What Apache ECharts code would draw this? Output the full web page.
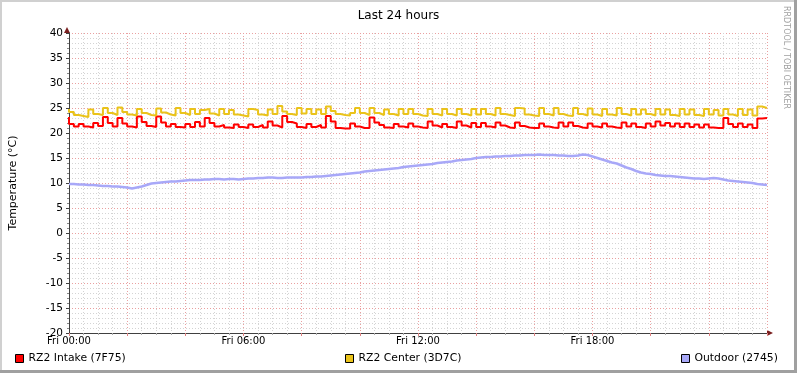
<!DOCTYPE html>
<html>
<head>
<meta charset="utf-8">
<script src="https://cdn.jsdelivr.net/npm/echarts@6/dist/echarts.min.js"></script>
<style>
  html, body { margin: 0; padding: 0; background: #fff; }
  #chart { width: 797px; height: 373px; }
</style>
</head>
<body>
<div id="chart"></div>
<script>
// samples every 10 minutes, Fri 00:00 .. Sat 00:00
var stepMinutes = 10;
var tickLabels = ["Fri 00:00", "Fri 06:00", "Fri 12:00", "Fri 18:00"];
var seriesNames = ["RZ2 Intake (7F75)", "RZ2 Center (3D7C)", "Outdoor (2745)"];

var intake = [
  23.2, 21.8, 21.3, 21.8, 21.3, 21.1, 22.0, 21.4, 23.2, 22.0,
  21.3, 23.0, 21.9, 21.3, 21.1, 23.3, 22.2, 21.4, 21.2, 23.3,
  22.1, 21.3, 21.8, 21.2, 21.1, 21.8, 21.2, 22.2, 21.3, 23.0,
  22.0, 21.3, 21.6, 21.1, 21.0, 21.7, 21.2, 21.0, 21.7, 21.2,
  21.6, 21.1, 22.3, 21.5, 21.1, 23.4, 22.2, 21.9, 21.2, 21.0,
  21.8, 21.2, 21.6, 21.1, 23.4, 22.3, 21.0, 20.9, 20.9, 21.9,
  21.3, 21.0, 21.0, 23.1, 22.1, 21.6, 21.1, 21.0, 21.8, 21.3,
  21.1, 21.9, 21.3, 21.1, 21.0, 22.3, 21.5, 21.1, 21.8, 21.2,
  21.0, 22.3, 21.5, 21.1, 22.0, 21.2, 22.0, 21.3, 21.1, 22.1,
  21.5, 21.1, 21.0, 22.1, 21.4, 21.1, 21.0, 21.0, 21.9, 21.3,
  21.1, 21.0, 22.1, 21.3, 22.1, 21.4, 21.1, 21.0, 21.9, 21.3,
  21.1, 21.9, 21.3, 21.1, 21.0, 22.1, 21.3, 21.9, 21.2, 21.0,
  21.9, 21.3, 22.3, 21.5, 22.0, 21.3, 21.9, 21.2, 21.9, 21.2,
  21.7, 21.1, 21.7, 21.1, 21.0, 21.0, 23.0, 21.8, 21.2, 21.9,
  21.2, 21.7, 21.0, 22.9, 23.0
];

var center = [
  24.8, 24.2, 23.6, 23.4, 23.2, 24.7, 23.8, 23.6, 25.0, 24.0,
  23.6, 25.1, 24.2, 23.7, 23.5, 24.8, 24.0, 23.6, 23.5, 24.9,
  24.1, 23.7, 23.5, 25.0, 24.0, 23.6, 24.8, 23.8, 24.6, 24.8,
  23.9, 23.5, 24.8, 23.8, 24.6, 23.7, 23.5, 23.3, 24.8, 24.6,
  23.7, 23.5, 24.7, 23.8, 25.4, 24.3, 23.8, 23.6, 25.0, 23.9,
  24.8, 23.8, 24.7, 23.8, 25.3, 24.4, 23.8, 23.6, 23.5, 24.0,
  25.0, 24.0, 23.6, 25.0, 24.0, 23.6, 24.7, 23.8, 23.5, 24.8,
  23.8, 24.8, 23.8, 23.5, 23.4, 24.8, 23.8, 23.5, 24.8, 23.8,
  23.5, 24.8, 23.8, 23.5, 24.8, 23.7, 24.8, 23.8, 23.5, 25.0,
  23.8, 23.6, 23.4, 25.0, 24.9, 23.7, 23.5, 23.4, 25.0, 23.8,
  23.5, 25.0, 23.8, 23.5, 23.4, 25.0, 23.8, 23.5, 24.9, 23.7,
  23.4, 24.8, 23.7, 23.5, 25.0, 23.8, 23.5, 24.8, 23.7, 24.7,
  23.8, 23.5, 24.8, 23.7, 24.7, 23.6, 23.4, 24.8, 23.7, 24.7,
  23.6, 23.4, 24.8, 23.7, 24.6, 23.5, 24.8, 23.7, 23.4, 24.8,
  23.6, 24.7, 23.5, 25.3, 25.0
];

var outdoor = [
   9.8,  9.8,  9.7,  9.7,  9.6,  9.6,  9.5,  9.4,  9.4,  9.3,
   9.3,  9.2,  9.1,  8.9,  9.1,  9.3,  9.6,  9.9, 10.0, 10.1,
  10.2, 10.3, 10.3, 10.4, 10.5, 10.6, 10.6, 10.6, 10.7, 10.7,
  10.8, 10.8, 10.7, 10.8, 10.8, 10.7, 10.8, 10.9, 10.9, 11.0,
  11.0, 11.1, 11.1, 11.0, 11.0, 11.1, 11.1, 11.1, 11.1, 11.2,
  11.2, 11.3, 11.3, 11.4, 11.5, 11.6, 11.7, 11.8, 11.9, 12.0,
  12.1, 12.3, 12.4, 12.5, 12.6, 12.7, 12.8, 12.9, 13.0, 13.2,
  13.3, 13.4, 13.5, 13.6, 13.7, 13.8, 14.0, 14.1, 14.2, 14.3,
  14.5, 14.6, 14.7, 14.8, 15.0, 15.1, 15.2, 15.2, 15.3, 15.3,
  15.4, 15.4, 15.5, 15.5, 15.6, 15.6, 15.6, 15.7, 15.6, 15.6,
  15.6, 15.5, 15.5, 15.4, 15.4, 15.5, 15.7, 15.6, 15.3, 15.0,
  14.7, 14.4, 14.1, 13.9, 13.5, 13.1, 12.8, 12.4, 12.1, 11.9,
  11.8, 11.6, 11.5, 11.4, 11.4, 11.3, 11.2, 11.1, 11.0, 10.9,
  10.9, 10.8, 10.9, 11.0, 10.9, 10.7, 10.5, 10.4, 10.3, 10.2,
  10.1, 10.0,  9.8,  9.7,  9.6
];

var colors = ["#ff0000", "#eac31a", "#a8a8f8"];

function toPairs(arr) {
  var out = [];
  for (var i = 0; i < arr.length; i++) {
    out.push([i * stepMinutes, arr[i]]);
  }
  return out;
}

var font = "DejaVu Sans";
var chart = echarts.init(document.getElementById("chart"));

function makeLegend(name, left) {
  return {
    data: [name],
    left: left,
    top: 353,
    padding: 0,
    icon: "rect",
    itemWidth: 8,
    itemHeight: 8,
    itemGap: 6,
    selectedMode: false,
    itemStyle: { borderColor: "#000", borderWidth: 1 },
    textStyle: { fontFamily: font, fontSize: 10.8, color: "#000", padding: [1, 0, 0, 0] }
  };
}

var option = {
  backgroundColor: "#fff",
  animation: false,
  title: {
    text: "Last 24 hours",
    left: "center",
    top: 5,
    textStyle: { fontFamily: font, fontSize: 12, fontWeight: "normal", color: "#000" }
  },
  legend: [
    makeLegend(seriesNames[0], 15),
    makeLegend(seriesNames[1], 345),
    makeLegend(seriesNames[2], 681)
  ],
  grid: { left: 67, right: 30, top: 33, bottom: 40 },
  xAxis: {
    type: "value",
    min: 0,
    max: 1440,
    interval: 120,
    axisLine: { show: true, onZero: false, lineStyle: { color: "#404040", width: 1 } },
    axisTick: { show: true, length: 3, inside: false, lineStyle: { color: "#e08080" } },
    minorTick: { show: true, splitNumber: 4, length: 2, lineStyle: { color: "#aaa" } },
    axisLabel: {
      fontFamily: font,
      fontSize: 10,
      color: "#000",
      margin: 3,
      formatter: function (v) {
        if (v % 360 === 0 && v < 1440) return tickLabels[v / 360];
        return "";
      }
    },
    splitLine: { show: true, lineStyle: { color: "#eaa0a0", type: [1, 2], width: 1 } },
    minorSplitLine: { show: true, lineStyle: { color: "#d4d4d4", type: [1, 2], width: 1 } }
  },
  yAxis: {
    type: "value",
    min: -20,
    max: 40,
    interval: 5,
    name: "Temperature (°C)",
    nameLocation: "middle",
    nameRotate: 90,
    nameGap: 50,
    nameTextStyle: { fontFamily: font, fontSize: 11, color: "#000" },
    axisLine: { show: true, onZero: false, lineStyle: { color: "#404040", width: 1 } },
    axisTick: { show: true, length: 3, lineStyle: { color: "#404040" } },
    minorTick: { show: true, splitNumber: 5, length: 2, lineStyle: { color: "#888" } },
    axisLabel: { fontFamily: font, fontSize: 10.5, color: "#000", margin: 6 },
    splitLine: { show: true, lineStyle: { color: "#eaa0a0", type: [1, 2], width: 1 } },
    minorSplitLine: { show: true, lineStyle: { color: "#d4d4d4", type: [1, 2], width: 1 } }
  },
  series: [
    {
      name: seriesNames[0],
      type: "line",
      step: "start",
      symbol: "none",
      color: colors[0],
      lineStyle: { width: 2, color: colors[0] },
      data: toPairs(intake)
    },
    {
      name: seriesNames[1],
      type: "line",
      step: "start",
      symbol: "none",
      color: colors[1],
      lineStyle: { width: 2, color: colors[1] },
      data: toPairs(center)
    },
    {
      name: seriesNames[2],
      type: "line",
      step: "start",
      symbol: "none",
      color: colors[2],
      lineStyle: { width: 2.5, color: colors[2] },
      data: toPairs(outdoor)
    }
  ],
  graphic: [
    // frame shading like rrdtool
    { type: "rect", left: 0, top: 0, shape: { width: 797, height: 2 }, style: { fill: "#d0d0d0" } },
    { type: "rect", left: 0, top: 0, shape: { width: 2, height: 373 }, style: { fill: "#d0d0d0" } },
    { type: "rect", left: 794, top: 0, shape: { width: 3, height: 373 }, style: { fill: "#a0a0a0" } },
    { type: "rect", left: 0, top: 370, shape: { width: 797, height: 3 }, style: { fill: "#a0a0a0" } },
    // axis arrows
    { type: "polygon", shape: { points: [[64, 33], [70, 33], [67, 27]] }, style: { fill: "#7a1f1f" } },
    { type: "polygon", shape: { points: [[767, 330], [767, 336], [773, 333]] }, style: { fill: "#7a1f1f" } },
    {
      type: "text",
      x: 786,
      y: 6,
      rotation: -Math.PI / 2,
      style: { text: "RRDTOOL / TOBI OETIKER", fill: "#a0a0a0", font: "8px " + font, textAlign: "left", textVerticalAlign: "middle" }
    }
  ]
};

chart.setOption(option);
</script>
</body>
</html>
